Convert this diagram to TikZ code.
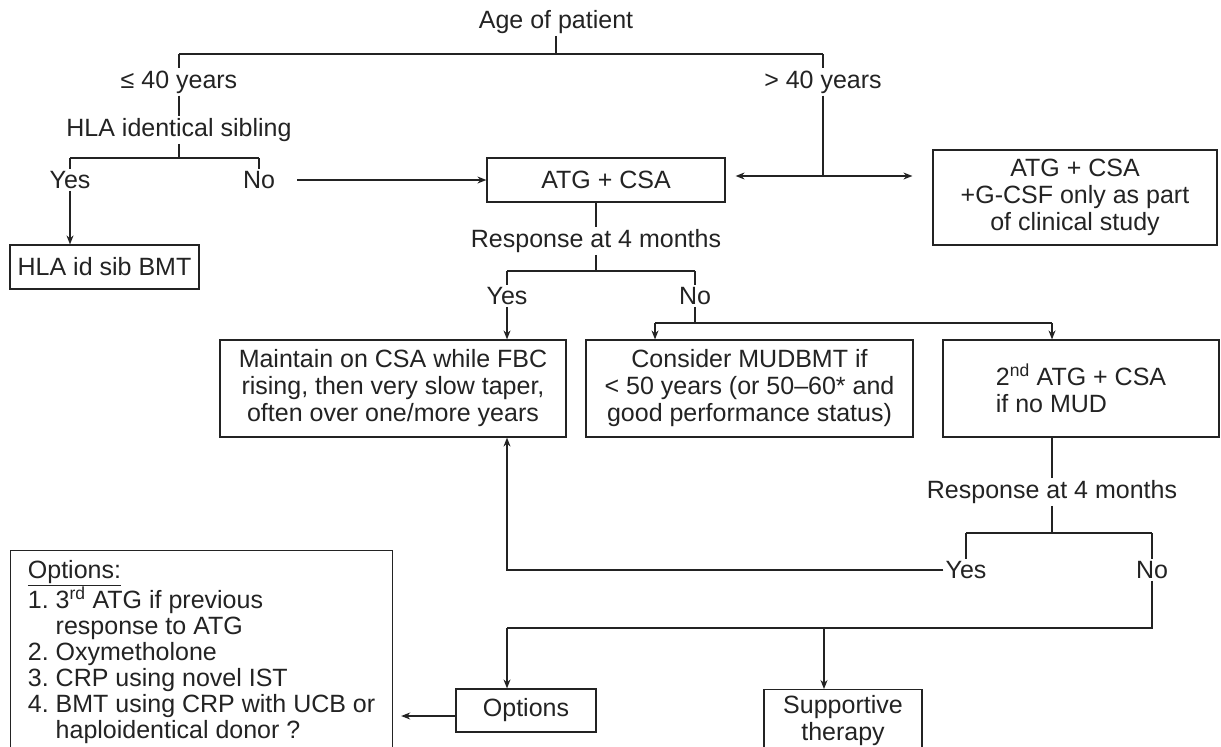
\documentclass[tikz,border=0pt]{standalone}
\usepackage{fontspec}
\setmainfont{Liberation Sans}
\usetikzlibrary{arrows.meta}
\definecolor{ink}{RGB}{35,35,35}
\frenchspacing
\begin{document}
\begin{tikzpicture}[x=1pt,y=-1pt,
  every node/.style={font=\fontsize{25}{27}\selectfont\frenchspacing, text=ink},
  lbl/.style={inner sep=2pt},
  box/.style={draw=ink, line width=1.2pt, inner sep=0pt, align=center},
  ln/.style={draw=ink, line width=1.2pt},
  arr/.style={ln, -{Stealth[length=9pt,width=7pt]}}]
\useasboundingbox (0,0) rectangle (1221,747);
\fill[white] (0,0) rectangle (1221,747);

% ---------- nodes ----------
\node[lbl] (age) at (556,22) {Age of patient};
\node[lbl] (le40) at (179,82) {≤ 40 years};
\node[lbl] (gt40) at (823,82) {> 40 years};
\node[lbl] (hla) at (179,130) {HLA identical sibling};
\node[lbl] (yes1) at (70,180) {Yes};
\node[lbl] (no1) at (259,180) {No};
\node[box, minimum width=189pt, minimum height=44pt] (sib) at (104.5,267) {HLA id sib BMT};
\node[box, minimum width=238pt, minimum height=44pt] (atg) at (606,180) {ATG + CSA};
\node[box, minimum width=284pt, minimum height=95pt] (rtop) at (1075,197.5)
  {ATG + CSA\\+G-CSF only as part\\of clinical study};
\node[lbl] (resp1) at (596,241) {Response at 4 months};
\node[lbl] (yes2) at (507,296) {Yes};
\node[lbl] (no2) at (695,296) {No};
\node[box, minimum width=346pt, minimum height=97pt] (maint) at (393,388.5)
  {Maintain on CSA while FBC\\rising, then very slow taper,\\often over one/more years};
\node[box, minimum width=327pt, minimum height=97pt] (cons) at (749.5,388.5)
  {Consider MUDBMT if\\< 50 years (or 50–60* and\\good performance status)};
\node[box, minimum width=276pt, minimum height=97pt, align=left] (atg2) at (1081,388.5)
  {2\textsuperscript{nd} ATG + CSA\\if no MUD};
\node[lbl] (resp2) at (1052,492) {Response at 4 months};
\node[lbl] (yes3) at (966,570) {Yes};
\node[lbl] (no3) at (1152,570) {No};
\node[box, minimum width=140pt, minimum height=43pt] (opts) at (526,710.5) {Options};
\node[box, anchor=north, minimum width=158pt, inner ysep=6pt] (supp) at (843,689)
  {Supportive\\therapy};
\node[box, anchor=north west, inner xsep=16pt, inner ysep=10pt, minimum width=382pt,
  align=left, font=\fontsize{25}{26}\selectfont\frenchspacing] (big) at (10,550)
  {\underline{Options:}\\
   1. 3\textsuperscript{rd} ATG if previous\\
   \hspace*{27.8pt}response to ATG\\
   2. Oxymetholone\\
   3. CRP using novel IST\\
   4. BMT using CRP with UCB or\\
   \hspace*{27.8pt}haploidentical donor ?\rule[-25pt]{0pt}{25pt}};

% ---------- junction coordinates ----------
\coordinate (topL) at (179,54);
\coordinate (topM) at (556,54);
\coordinate (topR) at (823,54);
\coordinate (hlaJ) at (179,158);
\coordinate (yJ) at (70,158);
\coordinate (nJ) at (259,158);
\coordinate (rJ) at (823,176);
\coordinate (r1J) at (596,271);
\coordinate (y2J) at (507,271);
\coordinate (n2J) at (695,271);
\coordinate (nb) at (695,323);
\coordinate (nbL) at (655,323);
\coordinate (nbR) at (1052,323);
\coordinate (r2J) at (1052,533);
\coordinate (y3J) at (966,533);
\coordinate (n3J) at (1152,533);
\coordinate (yL) at (507,570);
\coordinate (nB) at (1152,628);
\coordinate (oB) at (507,628);
\coordinate (sB) at (824,628);

% ---------- connectors ----------
\draw[ln] (age.south) -- (topM);
\draw[ln] (topL) -- (topR);
\draw[ln] (topL) -- (le40.north);
\draw[ln] (le40.south) -- (hla.north);
\draw[ln] (hla.south) -- (hlaJ);
\draw[ln] (yJ) -- (nJ);
\draw[ln] (yJ) -- (yes1.north);
\draw[ln] (nJ) -- (no1.north);
\draw[arr] (yes1.south) -- (yes1.south |- sib.north);
\draw[arr] ([xshift=20pt]no1.east) -- (atg.west);

\draw[ln] (topR) -- (gt40.north);
\draw[ln] (gt40.south) -- (rJ);
\draw[arr] (rJ) -- ([xshift=10pt]rJ -| atg.east);
\draw[arr] (rJ) -- ([xshift=-20pt]rJ -| rtop.west);

\draw[ln] (atg.south -| resp1.north) -- (resp1.north);
\draw[ln] (resp1.south) -- (r1J);
\draw[ln] (y2J) -- (n2J);
\draw[ln] (y2J) -- (yes2.north);
\draw[ln] (n2J) -- (no2.north);
\draw[arr] (yes2.south) -- (yes2.south |- maint.north);
\draw[ln] (no2.south) -- (nb);
\draw[ln] (nbL) -- (nbR);
\draw[arr] (nbL) -- (nbL |- cons.north);
\draw[arr] (nbR) -- (nbR |- atg2.north);

\draw[ln] (atg2.south -| resp2.north) -- (resp2.north);
\draw[ln] (resp2.south) -- (r2J);
\draw[ln] (y3J) -- (n3J);
\draw[ln] (y3J) -- (yes3.north);
\draw[ln] (n3J) -- (no3.north);
\draw[arr] (yes3.west) -- (yL) -- (yL |- maint.south);
\draw[ln] (no3.south) -- (nB) -- (oB);
\draw[arr] (oB) -- (oB |- opts.north);
\draw[arr] (sB) -- (sB |- supp.north);
\draw[arr] ([yshift=-5.5pt]opts.west) -- ([xshift=8pt,yshift=-5.5pt]opts.west -| big.east);
\end{tikzpicture}
\end{document}
